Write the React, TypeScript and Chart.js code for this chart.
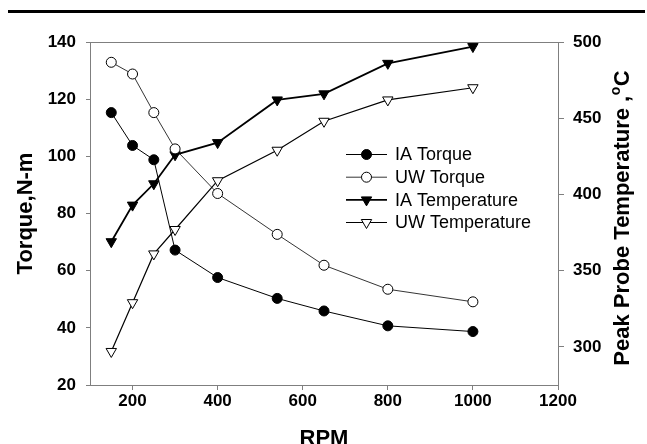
import React, { useEffect, useRef } from 'react';
import { Chart, registerables } from 'chart.js';

Chart.register(...registerables);

// ---- data ----
const RPM = [150, 200, 250, 300, 400, 540, 650, 800, 1000];
const IA_TORQUE = [115.3, 103.8, 98.8, 67.2, 57.6, 50.3, 45.9, 40.7, 38.7];
const UW_TORQUE = [132.9, 128.8, 115.3, 102.6, 87.0, 72.7, 61.9, 53.5, 49.1];
const IA_TEMP = [369, 393, 407, 426, 434, 462, 466, 486, 497];
const UW_TEMP = [297, 329, 361, 377, 409, 429, 448, 462, 470];

const X_TICKS = [200, 400, 600, 800, 1000, 1200];
const Y_TICKS = [20, 40, 60, 80, 100, 120, 140];
const Y2_TICKS = [300, 350, 400, 450, 500];

const SERIES_LABELS = ['IA Torque', 'UW Torque', 'IA Temperature', 'UW Temperature'];
const X_TITLE = 'RPM';
const Y_TITLE = 'Torque,N-m';
const Y2_TITLE_MAIN = 'Peak Probe Temperature ,';
const Y2_TITLE_SUP = 'o';
const Y2_TITLE_END = 'C';

const FAMILY = '"Liberation Sans", Arial, Helvetica, sans-serif';
const AXIS = '#7f7f7f';

const pts = (ys: number[]) => RPM.map((x, i) => ({ x, y: ys[i] }));
const plain = (v: any) => String(v);

function drawMarker(ctx: CanvasRenderingContext2D, ds: any, x: number, y: number) {
  const r = ds.pointRadius;
  ctx.save();
  ctx.lineWidth = ds.pointBorderWidth;
  ctx.strokeStyle = ds.pointBorderColor;
  ctx.fillStyle = ds.pointBackgroundColor;
  ctx.beginPath();
  if (ds.pointStyle === 'triangle') {
    let rad = ((ds.pointRotation || 0) * Math.PI) / 180;
    ctx.moveTo(x + Math.sin(rad) * r, y - Math.cos(rad) * r);
    rad += (2 * Math.PI) / 3;
    ctx.lineTo(x + Math.sin(rad) * r, y - Math.cos(rad) * r);
    rad += (2 * Math.PI) / 3;
    ctx.lineTo(x + Math.sin(rad) * r, y - Math.cos(rad) * r);
    ctx.closePath();
  } else {
    ctx.arc(x, y, r, 0, Math.PI * 2);
  }
  ctx.fill();
  ctx.stroke();
  ctx.restore();
}

const decor = {
  id: 'decor',
  afterDraw(chart: any) {
    const { ctx, chartArea: a } = chart;
    ctx.save();
    // thick rule at the top of the page
    ctx.fillStyle = '#000';
    ctx.fillRect(8, 10, 637, 3);
    // top frame line
    ctx.strokeStyle = AXIS;
    ctx.lineWidth = 1;
    ctx.beginPath();
    ctx.moveTo(a.left, Math.round(a.top) + 0.5);
    ctx.lineTo(a.right, Math.round(a.top) + 0.5);
    ctx.stroke();

    // right axis title, reading bottom to top, with superscript o
    const mainFont = `bold 22px ${FAMILY}`;
    const supFont = `bold 14px ${FAMILY}`;
    ctx.save();
    ctx.translate(628.5, 218);
    ctx.rotate(-Math.PI / 2);
    ctx.fillStyle = '#000';
    ctx.textBaseline = 'alphabetic';
    ctx.textAlign = 'left';
    ctx.font = mainFont;
    const w1 = ctx.measureText(Y2_TITLE_MAIN).width;
    const w3 = ctx.measureText(Y2_TITLE_END).width;
    ctx.font = supFont;
    const w2 = ctx.measureText(Y2_TITLE_SUP).width + 1;
    let x = -(w1 + w2 + w3) / 2;
    ctx.font = mainFont;
    ctx.fillText(Y2_TITLE_MAIN, x, 0);
    x += w1;
    ctx.font = supFont;
    ctx.fillText(Y2_TITLE_SUP, x + 0.5, -9);
    x += w2;
    ctx.font = mainFont;
    ctx.fillText(Y2_TITLE_END, x, 0);
    ctx.restore();

    // legend
    const rowY = [154.5, 177.2, 199.9, 222.5];
    const lx0 = 346;
    const lx1 = 387;
    ctx.font = `18px ${FAMILY}`;
    ctx.textBaseline = 'middle';
    ctx.textAlign = 'left';
    chart.data.datasets.forEach((ds: any, i: number) => {
      const y = rowY[i];
      ctx.strokeStyle = ds.borderColor;
      ctx.lineWidth = ds.borderWidth;
      ctx.beginPath();
      ctx.moveTo(lx0, y);
      ctx.lineTo(lx1, y);
      ctx.stroke();
      drawMarker(ctx, ds, (lx0 + lx1) / 2, y);
      ctx.fillStyle = '#000';
      ctx.fillText(ds.label, 395, y + 1);
    });
    ctx.restore();
  },
};

export default function App() {
  const ref = useRef<HTMLCanvasElement | null>(null);

  useEffect(() => {
    document.body.style.margin = '0';
    const canvas = ref.current;
    if (!canvas) return;
    const tickFont = { family: FAMILY, size: 17, weight: 'bold' as const };
    const titleFont = { family: FAMILY, size: 22, weight: 'bold' as const, lineHeight: 1 };

    const chart = new Chart(canvas, {
      type: 'line',
      data: {
        datasets: [
          {
            label: SERIES_LABELS[0],
            data: pts(IA_TORQUE),
            yAxisID: 'y',
            borderColor: '#000',
            borderWidth: 1,
            pointStyle: 'circle',
            pointRadius: 5,
            pointBorderWidth: 1,
            pointBorderColor: '#000',
            pointBackgroundColor: '#000',
          },
          {
            label: SERIES_LABELS[1],
            data: pts(UW_TORQUE),
            yAxisID: 'y',
            borderColor: '#000',
            borderWidth: 0.8,
            pointStyle: 'circle',
            pointRadius: 5,
            pointBorderWidth: 1,
            pointBorderColor: '#000',
            pointBackgroundColor: '#fff',
          },
          {
            label: SERIES_LABELS[2],
            data: pts(IA_TEMP),
            yAxisID: 'y2',
            borderColor: '#000',
            borderWidth: 1.8,
            pointStyle: 'triangle',
            pointRotation: 180,
            pointRadius: 6,
            pointBorderWidth: 1,
            pointBorderColor: '#000',
            pointBackgroundColor: '#000',
          },
          {
            label: SERIES_LABELS[3],
            data: pts(UW_TEMP),
            yAxisID: 'y2',
            borderColor: '#000',
            borderWidth: 1.2,
            pointStyle: 'triangle',
            pointRotation: 180,
            pointRadius: 6,
            pointBorderWidth: 1,
            pointBorderColor: '#000',
            pointBackgroundColor: '#fff',
          },
        ],
      },
      options: {
        responsive: false,
        animation: false,
        devicePixelRatio: 1,
        layout: { padding: { top: 42, left: 0, right: 0, bottom: 0 } },
        elements: { line: { tension: 0 } },
        plugins: { legend: { display: false }, tooltip: { enabled: false } },
        scales: {
          x: {
            type: 'linear',
            position: 'bottom',
            min: 100,
            max: 1200,
            afterBuildTicks: (s: any) => {
              s.ticks = X_TICKS.map((v) => ({ value: v }));
            },
            afterFit: (s: any) => {
              s.height = 59;
            },
            ticks: { color: '#000', font: tickFont, padding: 1, maxRotation: 0, autoSkip: false, callback: plain },
            grid: { drawOnChartArea: false, drawTicks: true, tickLength: 5, color: AXIS },
            border: { color: AXIS, width: 1 },
            title: {
              display: true,
              text: X_TITLE,
              color: '#000',
              font: { ...titleFont, lineHeight: 0.5 },
              padding: { top: 0, bottom: 0 },
            },
          },
          y: {
            type: 'linear',
            position: 'left',
            min: 20,
            max: 140,
            afterBuildTicks: (s: any) => {
              s.ticks = Y_TICKS.map((v) => ({ value: v }));
            },
            afterFit: (s: any) => {
              s.width = 90;
            },
            ticks: { color: '#000', font: tickFont, padding: 10, callback: plain },
            grid: { drawOnChartArea: false, drawTicks: true, tickLength: 4, color: AXIS },
            border: { color: AXIS, width: 1 },
            title: {
              display: true,
              text: Y_TITLE,
              color: '#000',
              font: titleFont,
              padding: { top: 14.5, bottom: 0 },
            },
          },
          y2: {
            type: 'linear',
            position: 'right',
            min: 275,
            max: 500,
            afterBuildTicks: (s: any) => {
              s.ticks = Y2_TICKS.map((v) => ({ value: v }));
            },
            afterFit: (s: any) => {
              s.width = 89;
            },
            ticks: { color: '#000', font: tickFont, padding: 9, callback: plain },
            grid: { drawOnChartArea: false, drawTicks: true, tickLength: 6, color: AXIS },
            border: { color: AXIS, width: 1 },
          },
        },
      },
      plugins: [decor],
    });
    return () => chart.destroy();
  }, []);

  return (
    <div style={{ width: 647, height: 444, background: '#fff' }}>
      <canvas ref={ref} width={647} height={444} style={{ display: 'block' }} />
    </div>
  );
}
